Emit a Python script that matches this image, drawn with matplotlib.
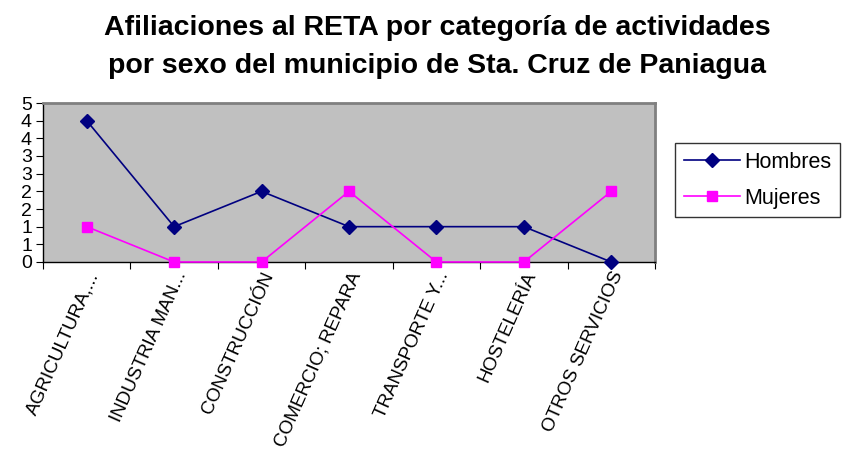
import matplotlib
matplotlib.use("Agg")
import matplotlib.pyplot as plt
from matplotlib.lines import Line2D

plt.rcParams['font.family'] = ['Liberation Sans', 'DejaVu Sans']

categories = ["AGRICULTURA,...", "INDUSTRIA MAN...", "CONSTRUCCIÓN",
              "COMERCIO; REPARA", "TRANSPORTE Y...", "HOSTELERÍA",
              "OTROS SERVICIOS"]
hombres = [4, 1, 2, 1, 1, 1, 0]
mujeres = [1, 0, 0, 2, 0, 0, 2]
ytick_values = [0, 0.5, 1, 1.5, 2, 2.5, 3, 3.5, 4, 4.5]
ytick_labels = ["0", "1", "1", "2", "2", "3", "3", "4", "4", "5"]
title = "Afiliaciones al RETA por categoría de actividades\npor sexo del municipio de Sta. Cruz de Paniagua"

W, H = 843, 450
fig = plt.figure(figsize=(W / 100, H / 100), dpi=100)
left, right, top, bottom = 43, 655, 103, 262
ax = fig.add_axes([left / W, 1 - bottom / H, (right - left) / W, (bottom - top) / H])
ax.set_facecolor('#C0C0C0')

x = list(range(len(categories)))
ax.plot(x, hombres, color='#000080', marker='D', markersize=7, linewidth=1.2,
        label='Hombres', clip_on=False, zorder=3)
ax.plot(x, mujeres, color='#FF00FF', marker='s', markersize=7, linewidth=1.2,
        label='Mujeres', clip_on=False, zorder=3)

ax.set_xlim(-0.5, len(categories) - 0.5)
ax.set_ylim(0, 4.5)
ax.set_yticks(ytick_values)
ax.set_yticklabels(ytick_labels, fontsize=14)
ax.set_xticks([i - 0.5 for i in range(len(categories) + 1)])
ax.set_xticklabels([])
ax.set_xticks(x, minor=True)
ax.set_xticklabels(categories, minor=True, rotation=66, ha='right', va='top',
                   rotation_mode='anchor', fontsize=13.6)
ax.tick_params(axis='x', which='minor', length=0, pad=5)
ax.tick_params(axis='x', which='major', length=5, direction='out', color='black')
ax.tick_params(axis='y', length=5, direction='out', pad=3, color='black')

for s in ['left', 'bottom']:
    ax.spines[s].set_color('black')
    ax.spines[s].set_linewidth(1.0)
for s in ['top', 'right']:
    ax.spines[s].set_color('#808080')
    ax.spines[s].set_linewidth(2.0)

handles = [Line2D([], [], color='#000080', marker='D', markersize=7, linewidth=1.2),
           Line2D([], [], color='#FF00FF', marker='s', markersize=7, linewidth=1.2)]
leg = fig.legend(handles, ['Hombres', 'Mujeres'], loc='upper left',
                 bbox_to_anchor=(675 / W, 1 - 143 / H), fontsize=15.5,
                 frameon=True, fancybox=False, edgecolor='black',
                 borderpad=0.4, handlelength=2.6, labelspacing=0.7,
                 handletextpad=0.2, borderaxespad=0)
leg.get_frame().set_linewidth(1.0)

fig.text(437 / W, 1 - 47 / H, title, ha='center', va='center', fontsize=20.5,
         fontweight='bold', linespacing=1.6)

fig.savefig('out.png', dpi=100)
